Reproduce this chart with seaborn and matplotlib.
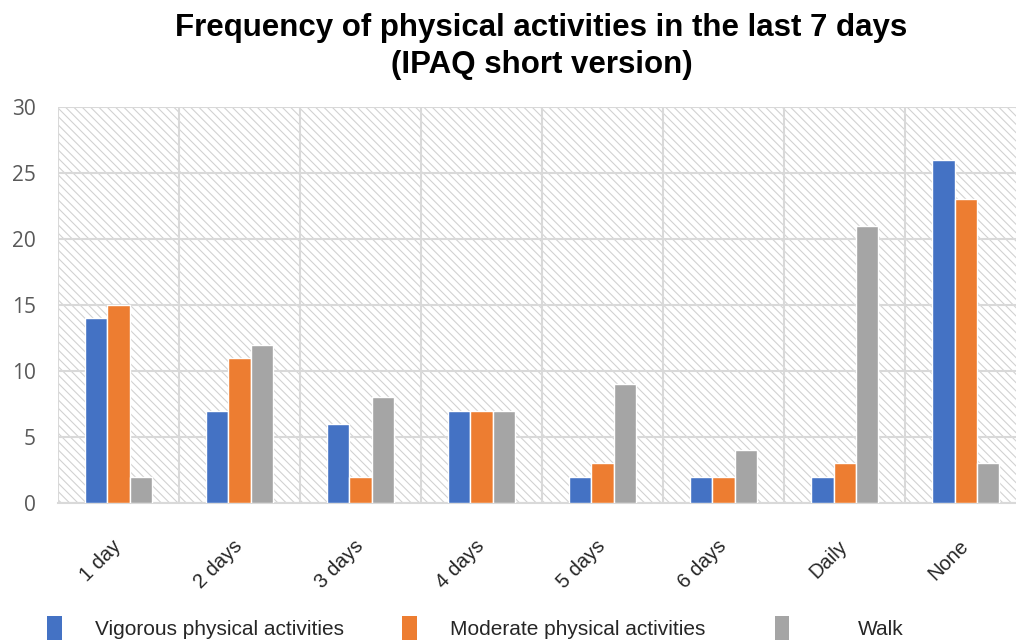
import matplotlib
matplotlib.use("Agg")
import matplotlib.pyplot as plt
import seaborn as sns
import pandas as pd
import numpy as np
from matplotlib.patches import Rectangle, Patch

categories = ["1 day", "2 days", "3 days", "4 days", "5 days", "6 days", "Daily", "None"]
vigorous = [14, 7, 6, 7, 2, 2, 2, 26]
moderate = [15, 11, 2, 7, 3, 2, 3, 23]
walk = [2, 12, 8, 7, 9, 4, 21, 3]
series_names = ["Vigorous physical activities", "Moderate physical activities", "Walk"]
colors = ["#4472C4", "#ED7D31", "#A5A5A5"]
yticks = [0, 5, 10, 15, 20, 25, 30]

df = pd.DataFrame({
    "category": categories * 3,
    "series": [series_names[0]] * 8 + [series_names[1]] * 8 + [series_names[2]] * 8,
    "value": vigorous + moderate + walk,
})

sns.set_theme(style="white")
plt.rcParams['font.family'] = ['Liberation Sans', 'DejaVu Sans']
plt.rcParams['hatch.linewidth'] = 0.8

fig = plt.figure(figsize=(10.16, 6.43), dpi=100)
ax = fig.add_axes([0.057, 0.2177, 0.953, 0.6159])

# hatched background
bg = Rectangle((0, 0), 1, 1, transform=ax.transAxes, facecolor="white",
               edgecolor="#d2d2d2", hatch="\\\\\\\\", linewidth=0, zorder=0)
ax.add_patch(bg)

sns.barplot(data=df, x="category", y="value", hue="series", palette=colors,
            order=categories, hue_order=series_names, width=0.55, saturation=1,
            ax=ax, zorder=3, legend=False)

ax.set_xlim(-0.5, 7.5)
ax.set_ylim(0, 30)
ax.set_yticks(yticks)
ax.set_xlabel("")
ax.set_ylabel("")

# grid
ax.set_xticks(np.arange(-0.5, 8.0, 1.0), minor=True)
ax.grid(True, axis="y", color="#d9d9d9", linewidth=1.5, zorder=1)
ax.grid(True, axis="x", which="minor", color="#d9d9d9", linewidth=1.5, zorder=1)
ax.grid(False, axis="x", which="major")
ax.set_axisbelow(True)

for s in ["top", "right", "left"]:
    ax.spines[s].set_visible(False)
ax.spines["bottom"].set_color("#d9d9d9")
ax.spines["bottom"].set_linewidth(1.5)

ax.tick_params(axis="y", length=0, labelsize=15, labelcolor="#595959", pad=16)
ax.tick_params(axis="x", which="major", length=0, labelsize=14.5, labelcolor="#262626", pad=29)
ax.tick_params(axis="x", which="minor", length=7, color="#d9d9d9", width=1.5)
for lab in ax.get_xticklabels():
    lab.set_rotation(45)
    lab.set_ha("right")
    lab.set_va("center")
    lab.set_rotation_mode("anchor")
for lab in ax.get_yticklabels():
    lab.set_family(["Open Sans", "DejaVu Sans"])

fig.suptitle("Frequency of physical activities in the last 7 days\n(IPAQ short version)",
             fontsize=22.5, fontweight="bold", color="black", y=0.98, x=0.533,
             linespacing=1.3)

handles = [Patch(facecolor=c, edgecolor="none") for c in colors]
leg1 = fig.legend(handles[:2], series_names[:2], loc="lower left", bbox_to_anchor=(0.028, -0.025),
                  ncol=2, frameon=False, fontsize=15, handlelength=0.7, handleheight=1.4,
                  handletextpad=1.6, columnspacing=2.8, labelcolor="#262626")
fig.legend(handles[2:], series_names[2:], loc="lower left", bbox_to_anchor=(0.744, -0.025),
           ncol=1, frameon=False, fontsize=15, handlelength=0.7, handleheight=1.4,
           handletextpad=3.3, labelcolor="#262626")

fig.savefig("out.png", dpi=100)
